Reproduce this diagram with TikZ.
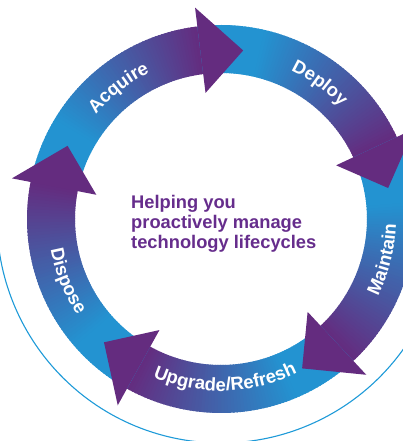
\documentclass[tikz,border=0pt]{standalone}
\usepackage{fontspec}
\setmainfont{Liberation Sans}
\usetikzlibrary{decorations.text}
\definecolor{ablue}{HTML}{2393D1}
\definecolor{apurple}{HTML}{642C7F}
\definecolor{tpurple}{HTML}{662D8C}
\definecolor{lineblue}{HTML}{1E9AD8}
\newcommand\lblfont{\fontsize{18.5}{20}\selectfont\bfseries}
\tikzset{
  ringlabel/.style={decorate, decoration={text along path, text align=center, text color=white, text={|\lblfont|#1}}},
  arrowhead/.style={fill=apurple},
  thinring/.style={draw=lineblue, line width=1.1pt}
}
\begin{document}
\begin{tikzpicture}[x=1pt,y=1pt]
\useasboundingbox (0,0) rectangle (403,441);
\clip (0,0) rectangle (403,441);
\coordinate (C) at (221,222);
% thin outer arc
\draw[thinring, shift={(C)}] (172:224) arc[start angle=172, end angle=340, radius=224];
% arrow bodies
\foreach \tb in {97,25,-47,-119,-191} {
  \foreach \i in {0,...,71} {
    \pgfmathsetmacro\angA{\tb+72-\i}
    \pgfmathsetmacro\angB{\tb+72-\i-1.4}
    \pgfmathsetmacro\pc{max(0,min(100,(\tb+52-\angA+0.5)*100/52))}
    \fill[apurple!\pc!ablue, shift={(C)}] (\angA:194) arc[start angle=\angA, end angle=\angB, radius=194] -- (\angB:146) arc[start angle=\angB, end angle=\angA, radius=146] -- cycle;
  }
}
% arrow heads
\foreach \tb in {97,25,-47,-119,-191} {
  \fill[arrowhead, shift={(C)}] (\tb:127) -- (\tb:213) -- (\tb-14.5:170) -- cycle;
}
% labels
\path[ringlabel=Acquire, shift={(C)}] (168:163) arc[start angle=168, end angle=88, radius=163];
\path[ringlabel=Deploy, shift={(C)}] (94:164) arc[start angle=94, end angle=14, radius=164];
\path[ringlabel=Maintain, shift={(C)}] (-54:175) arc[start angle=-54, end angle=26, radius=175];
\path[ringlabel={Upgrade/Refresh}, shift={(C)}] (-150:172) arc[start angle=-150, end angle=-27, radius=172];
\path[ringlabel=Dispose, shift={(C)}] (162:173) arc[start angle=162, end angle=242, radius=173];
% centre text
\node[anchor=north west, inner sep=0pt, align=left, text=tpurple, font=\fontsize{18.3}{20}\selectfont\bfseries] (centre) at (131,246) {Helping you\\proactively manage\\technology lifecycles};
\end{tikzpicture}
\end{document}
